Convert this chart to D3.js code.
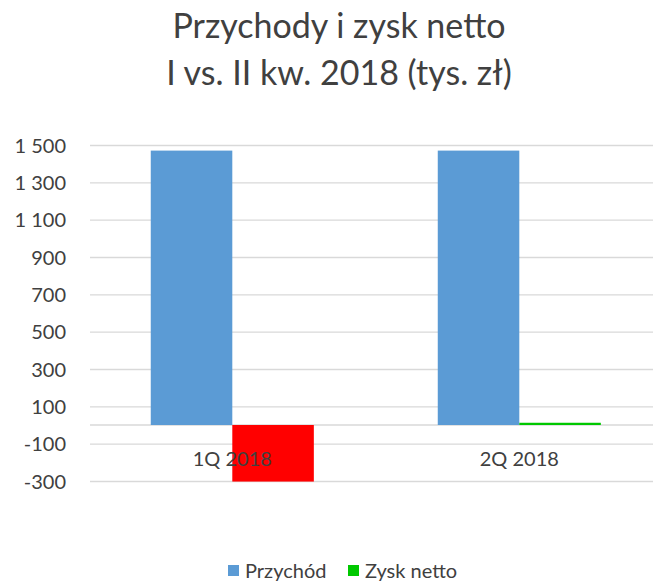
<!DOCTYPE html>
<html><head><meta charset="utf-8">
<script src="https://cdn.jsdelivr.net/npm/d3@7"></script>
<style>body{margin:0;background:#fff}svg{display:block}</style>
</head><body>
<script>
const categories = ["1Q 2018", "2Q 2018"];
const seriesNames = ["Przychód", "Zysk netto"];
const przychod = [1470, 1470];
const zyskNetto = [-303, 12];
const yTicks = [-300, -100, 100, 300, 500, 700, 900, 1100, 1300, 1500];
const titleLines = ["Przychody i zysk netto", "I vs. II kw. 2018 (tys. zł)"];
const colors = ["#5B9BD5", "#FF0000"];
const legendColors = ["#5B9BD5", "#00C800"];
const zyskColors = ["#FF0000", "#00C800"];

const W = 653, H = 583;
const font = "Lato, 'Open Sans', sans-serif";
const svg = d3.select("body").append("svg").attr("width", W).attr("height", H);

const plot = {left: 90, right: 663, top: 145, bottom: 481};
const y = d3.scaleLinear().domain([-300, 1500]).range([plot.bottom, plot.top]);
const x0 = d3.scaleBand().domain(categories).range([88.8, 662.8]);
const x1 = d3.scaleBand().domain(seriesNames).range([0, x0.bandwidth()]).paddingOuter(0.76).paddingInner(0);

const loc = d3.formatLocale({decimal: ",", thousands: " ", grouping: [3], currency: ["", " zł"], minus: "-"});
const fmt = loc.format(",d");

// gridlines
const yAxis = d3.axisLeft(y).tickValues(yTicks).tickSize(-(plot.right - plot.left)).tickFormat(fmt).tickPadding(24);
const ga = svg.append("g").attr("transform", `translate(${plot.left},0)`).call(yAxis);
ga.select(".domain").remove();
ga.selectAll(".tick line").attr("stroke", "#D9D9D9").attr("stroke-width", 1.3);
ga.selectAll(".tick text").attr("fill", "#404040").style("font-family", font).style("font-size", "20px").attr("dy", "0.35em");

// zero line
svg.append("line").attr("x1", plot.left).attr("x2", plot.right).attr("y1", y(0)).attr("y2", y(0)).attr("stroke", "#D9D9D9").attr("stroke-width", 1.3);

const data = categories.map((c, i) => ({cat: c, vals: [
  {s: seriesNames[0], v: przychod[i], color: colors[0]},
  {s: seriesNames[1], v: zyskNetto[i], color: zyskColors[i]}
]}));

const groups = svg.append("g").selectAll("g").data(data).join("g")
  .attr("transform", d => `translate(${x0(d.cat)},0)`);
groups.selectAll("rect").data(d => d.vals).join("rect")
  .attr("x", d => x1(d.s))
  .attr("width", x1.bandwidth())
  .attr("y", d => y(Math.max(0, d.v)))
  .attr("height", d => Math.abs(y(d.v) - y(0)))
  .attr("fill", d => d.color);

// category labels
svg.append("g").selectAll("text").data(categories).join("text")
  .attr("x", d => x0(d) + x0.bandwidth() / 2)
  .attr("y", 466)
  .attr("text-anchor", "middle")
  .attr("fill", "#404040")
  .style("font-family", font).style("font-size", "20px")
  .text(d => d);

// title
svg.append("g").selectAll("text").data(titleLines).join("text")
  .attr("x", 339).attr("y", (d, i) => 38 + i * 47)
  .attr("text-anchor", "middle").attr("fill", "#404040")
  .style("font-family", font).style("font-size", "34px")
  .text(d => d);

// legend
const leg = svg.append("g");
const legItems = [{name: seriesNames[0], color: legendColors[0], x: 228}, {name: seriesNames[1], color: legendColors[1], x: 348}];
legItems.forEach(it => {
  leg.append("rect").attr("x", it.x).attr("y", 565).attr("width", 11).attr("height", 11).attr("fill", it.color);
  leg.append("text").attr("x", it.x + 17).attr("y", 578).attr("fill", "#404040")
    .style("font-family", font).style("font-size", "20px").text(it.name);
});
</script>
</body></html>
